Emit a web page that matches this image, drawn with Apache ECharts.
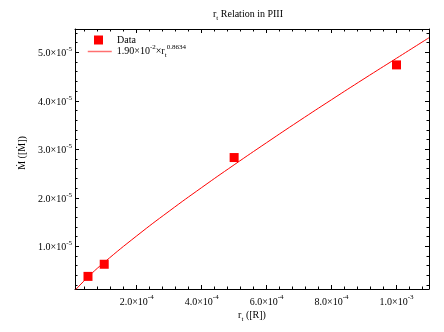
<!DOCTYPE html>
<html>
<head>
<meta charset="utf-8">
<script src="https://cdn.jsdelivr.net/npm/echarts@6/dist/echarts.min.js"></script>
<style>html,body{margin:0;padding:0;background:#fff}#c{width:444px;height:332px}</style>
</head>
<body>
<div id="c"></div>
<script>
// Measured data points
const dataX = [5e-5, 1e-4, 5e-4, 1e-3];
const dataY = [3.8e-6, 6.3e-6, 2.83e-5, 4.74e-5];
// Fit curve
const fitX = [1e-5, 5e-5, 1e-4, 2e-4, 3e-4, 4e-4, 5e-4, 6e-4, 7e-4, 8e-4, 9e-4, 1e-3, 1.1e-3];
const fitY = [0.92e-6, 3.67e-6, 6.69e-6, 1.215e-5, 1.725e-5, 2.211e-5, 2.68e-5, 3.137e-5, 3.585e-5, 4.023e-5, 4.454e-5, 4.877e-5, 5.30e-5];
const titleText = '{n|r}{sb|t}{n| Relation in PIII}';
const xName = '{n|r}{sb|t}{n| ([R])}';
const yName = '\u1E40 ([\u1E40])';
const legendData = 'Data';
const legendFit = '1.90×10^-2×r_t^0.8634';

const FONT = 'Liberation Serif';
const rich = {
  n: {fontFamily: FONT, fontSize: 10, lineHeight: 15, verticalAlign: 'middle', color: '#000'},
  sp: {fontFamily: FONT, fontSize: 7, lineHeight: 8, verticalAlign: 'top', color: '#000'},
  sb: {fontFamily: FONT, fontSize: 7, lineHeight: 8, verticalAlign: 'bottom', color: '#000'}
};
const richTick = {
  n: {fontFamily: FONT, fontSize: 10, lineHeight: 13, verticalAlign: 'bottom', color: '#000'},
  sp: {fontFamily: FONT, fontSize: 7, lineHeight: 8, verticalAlign: 'top', color: '#000'}
};
function sci(v) {
  if (v === 0) return '{n|0}';
  const e = Math.floor(Math.log10(Math.abs(v)) + 1e-9);
  const m = v / Math.pow(10, e);
  return '{n|' + m.toFixed(1) + '×10}{sp|' + e + '}';
}
const axisCommon = {
  type: 'value',
  splitNumber: 5,
  splitLine: {show: false},
  axisLine: {show: true, onZero: false, lineStyle: {color: '#000', width: 1}},
  axisTick: {show: true, inside: true, length: 4, lineStyle: {color: '#000'}},
  minorTick: {show: true, splitNumber: 5, length: 2.5, lineStyle: {color: '#000'}}
};
const chart = echarts.init(document.getElementById('c'), null, {renderer: 'canvas'});
chart.setOption({
  animation: false,
  backgroundColor: '#fff',
  title: {
    text: titleText, left: 208, top: 2,
    textStyle: {rich: rich, fontFamily: FONT, fontSize: 10, fontWeight: 'normal'}
  },
  legend: [
    {
      data: [{name: legendData, icon: 'rect'}], left: 94, top: 35, padding: 0,
      itemWidth: 9, itemHeight: 9, orient: 'vertical',
      textStyle: {fontFamily: FONT, fontSize: 10, color: '#000', padding: [0, 0, 0, 9]}
    },
    {
      data: [{name: legendFit, itemStyle: {opacity: 0}, lineStyle: {width: 1.5, color: '#ff7070'}}],
      left: 87, top: 44, padding: 0,
      itemWidth: 24, itemHeight: 14, orient: 'vertical',
      formatter: function () { return '{n|1.90×10}{sp|-2}{n|×r}{sb|t}{sp|0.8634}'; },
      textStyle: {rich: rich, fontFamily: FONT, fontSize: 10, color: '#000'}
    }
  ],
  grid: {left: 75, right: 15, top: 29, bottom: 43, containLabel: false},
  xAxis: [
    Object.assign({}, axisCommon, {
      position: 'bottom', min: 1e-5, max: 1.1e-3,
      name: xName, nameLocation: 'middle', nameGap: 19, nameMoveOverlap: false,
      nameTextStyle: {rich: rich, fontFamily: FONT, fontSize: 10, color: '#000'},
      axisLabel: {formatter: sci, rich: richTick, margin: 5, showMinLabel: false, showMaxLabel: false}
    }),
    Object.assign({}, axisCommon, {
      position: 'top', min: 1e-5, max: 1.1e-3, axisLabel: {show: false}
    })
  ],
  yAxis: [
    Object.assign({}, axisCommon, {
      position: 'left', min: 1.2e-6, max: 5.48e-5,
      name: yName, nameLocation: 'middle', nameGap: 48, nameMoveOverlap: false,
      nameTextStyle: {fontFamily: 'Liberation Serif, DejaVu Serif, serif', fontSize: 10, color: '#000', padding: [0, 0, 0, 12]},
      axisLabel: {formatter: sci, rich: richTick, margin: 3, showMinLabel: false, showMaxLabel: false}
    }),
    Object.assign({}, axisCommon, {
      position: 'right', min: 1.2e-6, max: 5.48e-5, axisLabel: {show: false}
    })
  ],
  series: [
    {
      name: legendFit, type: 'line', xAxisIndex: 0, yAxisIndex: 0,
      data: fitX.map((x, i) => [x, fitY[i]]),
      smooth: true, symbol: 'none',
      lineStyle: {color: '#ff0000', width: 1}, itemStyle: {color: '#ff0000'}, z: 2
    },
    {
      name: legendData, type: 'scatter', xAxisIndex: 0, yAxisIndex: 0,
      data: dataX.map((x, i) => [x, dataY[i]]),
      symbol: 'rect', symbolSize: 9,
      itemStyle: {color: '#ff0000', opacity: 1}, z: 3
    }
  ]
});
</script>
</body>
</html>
